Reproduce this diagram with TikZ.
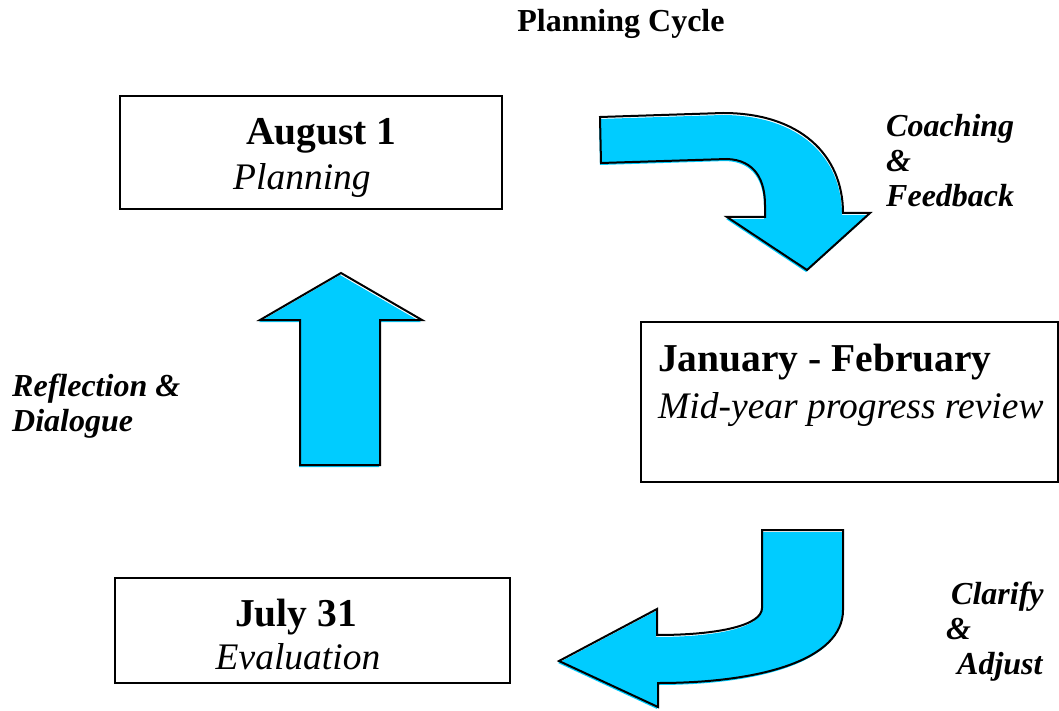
\documentclass[tikz,border=0pt]{standalone}
\usepackage{fontspec}
\setmainfont{Liberation Serif}
\usepackage{tikz}
\usetikzlibrary{positioning}
\definecolor{cycleblue}{HTML}{00CCFF}

% outlines of the three block arrows
\newcommand{\risepath}{(300,465) -- (300,320) -- (260,320) -- (341,273) -- (422,320) -- (380,320) -- (380,465) -- cycle}
\newcommand{\turnpath}{(600,117) -- (723,113) .. controls (800,113) and (843,155) .. (843,213)
  -- (870,213) -- (807,270) -- (727,217) -- (765,217) -- (765,205)
  .. controls (765,180) and (755,160) .. (727,159) -- (601,163) -- cycle}
\newcommand{\returnpath}{(762,530) -- (843,530) -- (843,610) .. controls (843,660) and (760,683) .. (658,683)
  -- (658,707) -- (559,661) -- (657,609) -- (657,635)
  .. controls (720,635) and (762,625) .. (762,608) -- cycle}

\begin{document}
\begin{tikzpicture}[
x=1pt,y=-1pt,
box/.style={draw=black,line width=1.5pt,inner sep=0pt},
head/.style={font=\fontsize{39.5}{45}\selectfont\bfseries,inner sep=0pt},
sub/.style={font=\fontsize{37.5}{44}\selectfont\itshape,inner sep=0pt},
note/.style={font=\fontsize{32}{35}\selectfont\bfseries\itshape,align=left,inner sep=0pt},
blk/.style={draw=black,line width=2pt,line join=miter},
blkfill/.style={fill=cycleblue,shift={(-1,2)}}
]
\useasboundingbox (0,0) rectangle (1059,711);

\node[inner sep=0pt,anchor=base,font=\fontsize{32}{36}\selectfont\bfseries] (title) at (621,32) {Planning Cycle};

% the three stages
\node[box,minimum width=382pt,minimum height=113pt] (aug) at (311,152.5) {};
\node[box,minimum width=417pt,minimum height=160pt] (jan) at (849.5,402) {};
\node[box,minimum width=395pt,minimum height=105pt] (jul) at (312.5,630.5) {};

\node[head,anchor=base west] (augdate) at (246,145) {August 1};
\node[sub,anchor=base west]  (augtask) at (233,190) {Planning};
\node[head,anchor=base west] (jandate) at (658,371) {January - February};
\node[sub,anchor=base west]  (jantask) at (658,418) {Mid-year progress review};
\node[head,anchor=base] (juldate) at (296,626) {July 31};
\node[sub,anchor=base]  (jultask) at (298,669) {Evaluation};

% arrows between stages
\fill[blkfill] \turnpath;   \draw[blk] \turnpath;
\fill[blkfill] \returnpath; \draw[blk] \returnpath;
\fill[blkfill] \risepath;   \draw[blk] \risepath;

% labels sit on the baseline of their last line
\node[note,anchor=base west] (coach) at (886,207) {Coaching\\ \&\\ Feedback};
\node[note,anchor=base west] (clar)  at (946,674) {\hspace*{5pt}Clarify\\ \&\\ \hspace*{11pt}Adjust};
\node[note,anchor=base west] (refl)  at (12,431) {Reflection \&\\ Dialogue};
\end{tikzpicture}
\end{document}
